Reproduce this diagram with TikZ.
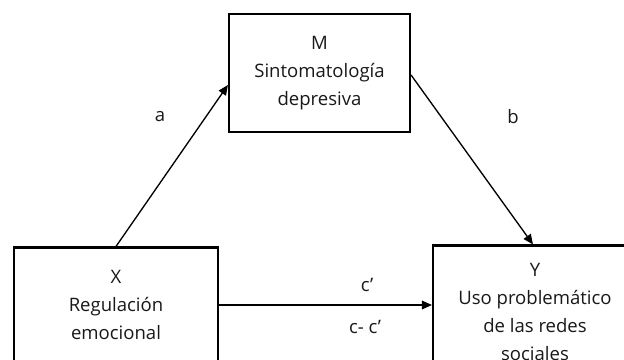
\documentclass[tikz,border=0pt]{standalone}
\usepackage{fontspec}
\setmainfont{Open Sans}
\usetikzlibrary{arrows.meta,calc}
\begin{document}
\begin{tikzpicture}[x=0.75pt,y=-0.75pt,
  varbox/.style={draw=black,line width=1.6pt,fill=white,inner sep=0pt,align=center,
    font=\fontsize{13.9}{21}\selectfont,text=black!90},
  conn/.style={draw=black,line width=1pt,-{Triangle[length=7.5pt,width=6.5pt]}},
  lbl/.style={font=\fontsize{13.9}{16}\selectfont,text=black!90}]
\useasboundingbox (0,0) rectangle (624,360);
\clip (0,0) rectangle (624,360);
\node[varbox,minimum width=181*0.75pt,minimum height=118*0.75pt] (M) at (319.5,73)
  {M\\Sintomatología\\depresiva};
\node[varbox,minimum width=204*0.75pt,minimum height=115*0.75pt] (X) at (116,305)
  {X\\Regulación\\emocional};
\node[varbox,minimum width=204*0.75pt,minimum height=133*0.75pt] (Y) at (535,312)
  {Y\\Uso problemático\\de las redes\\sociales};
\draw[conn] (X.north) -- ([yshift=-9pt]M.west);
\draw[conn] ([yshift=-1.5pt]M.east) -- ([xshift=-1.5pt]Y.north);
\draw[conn] (X.east) -- (X.east -| Y.west);
\node[lbl] (la) at (160,117) {a};
\node[lbl] (lb) at (513,117) {b};
\node[lbl] (lc) at (367,285) {c’};
\node[lbl] (lcc) at (365,327) {c- c’};
\end{tikzpicture}
\end{document}
